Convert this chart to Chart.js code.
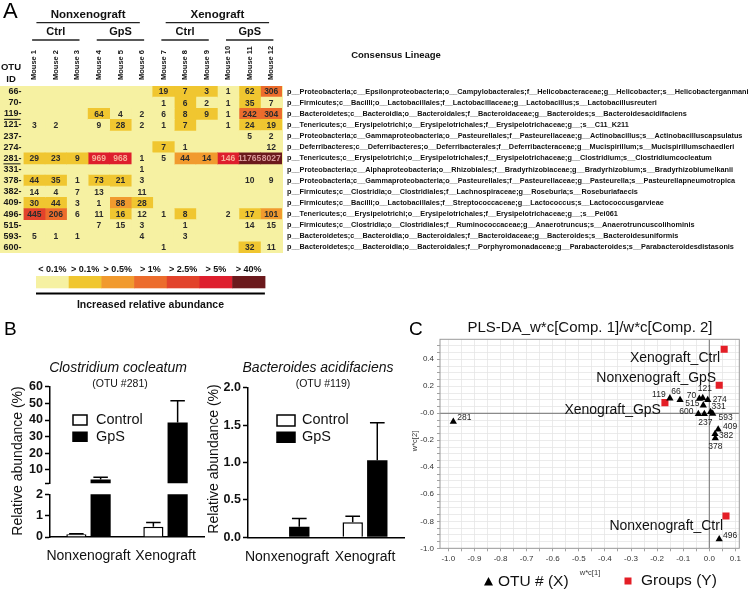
<!DOCTYPE html>
<html>
<head>
<meta charset="utf-8">
<script src="https://cdn.jsdelivr.net/npm/chart.js@4.4.1/dist/chart.umd.min.js"></script>
<style>
  html, body { margin: 0; padding: 0; background: #fff; }
  #wrap { position: relative; width: 751px; height: 590px; overflow: hidden; }
  #wrap canvas { position: absolute; left: 0; top: 0; }
</style>
</head>
<body>
<div id="wrap">
  <canvas id="heat" width="751" height="590"></canvas>
  <canvas id="cocUpper" width="751" height="590"></canvas>
  <canvas id="cocLower" width="751" height="590"></canvas>
  <canvas id="acid" width="751" height="590"></canvas>
  <canvas id="plsda" width="751" height="590"></canvas>
</div>
<script>
// ! Data - panel A (read counts, null = empty cell)
const otuIds = ["66", "70", "119", "121", "237", "274", "281", "331", "378", "382", "409", "496", "515", "593", "600"];
const highlightOtus = ["119", "281"];
const mice = ["Mouse 1", "Mouse 2", "Mouse 3", "Mouse 4", "Mouse 5", "Mouse 6",
  "Mouse 7", "Mouse 8", "Mouse 9", "Mouse 10", "Mouse 11", "Mouse 12"];
const counts = [
  [null, null, null, null, null, null, 19, 7, 3, 1, 62, 306],
  [null, null, null, null, null, null, 1, 6, 2, 1, 35, 7],
  [null, null, null, 64, 4, 2, 6, 8, 9, 1, 242, 304],
  [3, 2, null, 9, 28, 2, 1, 7, null, 1, 24, 19],
  [null, null, null, null, null, null, null, null, null, null, 5, 2],
  [null, null, null, null, null, null, 7, 1, null, null, null, 12],
  [29, 23, 9, 969, 968, 1, 5, 44, 14, 146, 11765, 8027],
  [null, null, null, null, null, 1, null, null, null, null, null, null],
  [44, 35, 1, 73, 21, 3, null, null, null, null, 10, 9],
  [14, 4, 7, 13, null, 11, null, null, null, null, null, null],
  [30, 44, 3, 1, 88, 28, null, null, null, null, null, null],
  [445, 206, 6, 11, 16, 12, 1, 8, null, 2, 17, 101],
  [null, null, null, 7, 15, 3, null, 1, null, null, 14, 15],
  [5, 1, 1, null, null, 4, null, 3, null, null, null, null],
  [null, null, null, null, null, null, 1, null, null, null, 32, 11]
];
// abundance class of each cell (index into levelLabels)
const levels = [
  [0, 0, 0, 0, 0, 0, 1, 1, 1, 0, 1, 3],
  [0, 0, 0, 0, 0, 0, 0, 1, 0, 0, 1, 0],
  [0, 0, 0, 1, 0, 0, 0, 1, 1, 0, 3, 3],
  [0, 0, 0, 0, 1, 0, 0, 1, 0, 0, 1, 1],
  [0, 0, 0, 0, 0, 0, 0, 0, 0, 0, 0, 0],
  [0, 0, 0, 0, 0, 0, 1, 0, 0, 0, 0, 0],
  [1, 1, 1, 5, 5, 0, 0, 2, 2, 5, 6, 6],
  [0, 0, 0, 0, 0, 0, 0, 0, 0, 0, 0, 0],
  [1, 1, 0, 1, 1, 0, 0, 0, 0, 0, 0, 0],
  [0, 0, 0, 0, 0, 0, 0, 0, 0, 0, 0, 0],
  [1, 1, 0, 0, 2, 1, 0, 0, 0, 0, 0, 0],
  [4, 3, 0, 0, 1, 0, 0, 1, 0, 0, 1, 2],
  [0, 0, 0, 0, 0, 0, 0, 0, 0, 0, 0, 0],
  [0, 0, 0, 0, 0, 0, 0, 0, 0, 0, 0, 0],
  [0, 0, 0, 0, 0, 0, 0, 0, 0, 0, 1, 0]
];
const levelLabels = ["< 0.1%", "> 0.1%", "> 0.5%", "> 1%", "> 2.5%", "> 5%", "> 40%"];
const lineages = [
  "p__Proteobacteria;c__Epsilonproteobacteria;o__Campylobacterales;f__Helicobacteraceae;g__Helicobacter;s__Helicobacterganmani",
  "p__Firmicutes;c__Bacilli;o__Lactobacillales;f__Lactobacillaceae;g__Lactobacillus;s__Lactobacillusreuteri",
  "p__Bacteroidetes;c__Bacteroidia;o__Bacteroidales;f__Bacteroidaceae;g__Bacteroides;s__Bacteroidesacidifaciens",
  "p__Tenericutes;c__Erysipelotrichi;o__Erysipelotrichales;f__Erysipelotrichaceae;g__;s__C11_K211",
  "p__Proteobacteria;c__Gammaproteobacteria;o__Pasteurellales;f__Pasteurellaceae;g__Actinobacillus;s__Actinobacilluscapsulatus",
  "p__Deferribacteres;c__Deferribacteres;o__Deferribacterales;f__Deferribacteraceae;g__Mucispirillum;s__Mucispirillumschaedleri",
  "p__Tenericutes;c__Erysipelotrichi;o__Erysipelotrichales;f__Erysipelotrichaceae;g__Clostridium;s__Clostridiumcocleatum",
  "p__Proteobacteria;c__Alphaproteobacteria;o__Rhizobiales;f__Bradyrhizobiaceae;g__Bradyrhizobium;s__Bradyrhizobiumelkanii",
  "p__Proteobacteria;c__Gammaproteobacteria;o__Pasteurellales;f__Pasteurellaceae;g__Pasteurella;s__Pasteurellapneumotropica",
  "p__Firmicutes;c__Clostridia;o__Clostridiales;f__Lachnospiraceae;g__Roseburia;s__Roseburiafaecis",
  "p__Firmicutes;c__Bacilli;o__Lactobacillales;f__Streptococcaceae;g__Lactococcus;s__Lactococcusgarvieae",
  "p__Tenericutes;c__Erysipelotrichi;o__Erysipelotrichales;f__Erysipelotrichaceae;g__;s__Pei061",
  "p__Firmicutes;c__Clostridia;o__Clostridiales;f__Ruminococcaceae;g__Anaerotruncus;s__Anaerotruncuscolihominis",
  "p__Bacteroidetes;c__Bacteroidia;o__Bacteroidales;f__Bacteroidaceae;g__Bacteroides;s__Bacteroidesuniformis",
  "p__Bacteroidetes;c__Bacteroidia;o__Bacteroidales;f__Porphyromonadaceae;g__Parabacteroides;s__Parabacteroidesdistasonis"
];

// ! Data - panel B (relative abundance %, mean and SD)
const groupsB = ["Nonxenograft", "Xenograft"];
const cocleatumControl = [0.13, 0.48];
const cocleatumControlSd = [0.02, 0.2];
const cocleatumGps = [4.3, 38.5];
const cocleatumGpsSd = [1.4, 13];
const cocleatumUpperTicks = [2, 10, 20, 30, 40, 50, 60];
const cocleatumLowerTicks = [0, 1, 2];
const acidControl = [0, 0.2];
const acidControlSd = [0, 0.08];
const acidGps = [0.14, 1.03];
const acidGpsSd = [0.11, 0.5];
const acidTicks = [0, 0.5, 1, 1.5, 2];

// ! Data - panel C (PLS-DA loadings)
const plsOtus = ["281", "119", "66", "70", "121", "274", "515", "331", "600", "237", "593", "409", "382", "378", "496"];
const plsX = [-0.981, -0.151, -0.112, -0.038, -0.025, -0.006, -0.023, 0.005, -0.042, -0.019, 0.013, 0.034, 0.022, 0.023, 0.038];
const plsY = [-0.062, 0.111, 0.099, 0.108, 0.113, 0.099, 0.059, 0.010, -0.005, -0.005, -0.003, -0.119, -0.153, -0.185, -0.933];
const plsGroups = ["Xenograft_Ctrl", "Nonxenograft_GpS", "Xenograft_GpS", "Nonxenograft_Ctrl"];
const plsGroupX = [0.057, 0.038, -0.170, 0.064];
const plsGroupY = [0.474, 0.207, 0.079, -0.761];
const plsXTicks = ["-1.0", "-0.9", "-0.8", "-0.7", "-0.6", "-0.5", "-0.4", "-0.3", "-0.2", "-0.1", "0.0", "0.1"];
const plsYTicks = ["-1.0", "-0.8", "-0.6", "-0.4", "-0.2", "-0.0", "0.2", "0.4"];

//! Common
const W = 751, H = 590;
const FONT = "'Liberation Sans', Arial, sans-serif";
Chart.defaults.font.family = FONT;
Chart.defaults.color = "#000";
Chart.defaults.animation = false;
Chart.defaults.responsive = false;
Chart.defaults.plugins.legend.display = false;
Chart.defaults.plugins.tooltip.enabled = false;

const levelColors = ["#f6f1a2", "#f0c630", "#f19a2e", "#ec6c2c", "#e2432b", "#de1e2d", "#6b191c"];

function text(ctx, str, x, y, font, align, color, rot) {
  ctx.save();
  ctx.font = font;
  ctx.fillStyle = color || "#000";
  ctx.textAlign = align || "center";
  ctx.textBaseline = "middle";
  ctx.translate(x, y);
  if (rot) ctx.rotate(rot);
  ctx.fillText(str, 0, 0);
  ctx.restore();
}

function hline(ctx, x1, x2, y, w, color) {
  ctx.save();
  ctx.strokeStyle = color || "#000";
  ctx.lineWidth = w;
  ctx.beginPath();
  ctx.moveTo(x1, y);
  ctx.lineTo(x2, y);
  ctx.stroke();
  ctx.restore();
}

// padding so the chart area lands on the given page box
function boxPadding(box, yAxisW, xAxisH, rightAxisW) {
  return {
    left: box.left - yAxisW,
    top: box.top,
    right: W - box.right - (rightAxisW || 0),
    bottom: H - box.bottom - xAxisH
  };
}

//! Panel A - heatmap
const heatBox = { left: 23.5, right: 282, top: 86, bottom: 253 };
const headerGroups = [
  { name: "Nonxenograft", from: 0, to: 6 },
  { name: "Xenograft", from: 6, to: 12 }
];
const headerSubs = [
  { name: "Ctrl", from: 0, to: 3 },
  { name: "GpS", from: 3, to: 6 },
  { name: "Ctrl", from: 6, to: 9 },
  { name: "GpS", from: 9, to: 12 }
];

const heatPlugin = {
  id: "heatDecor",
  beforeDraw(chart) {
    const { ctx, chartArea } = chart;
    ctx.save();
    ctx.fillStyle = levelColors[0];
    ctx.fillRect(0, chartArea.top, chartArea.right + 1, chartArea.bottom - chartArea.top);
    ctx.restore();
  },
  afterDatasetsDraw(chart) {
    const { ctx } = chart;
    const xs = chart.scales.x;
    const ys = chart.scales.y;
    counts.forEach((row, r) => {
      row.forEach((v, m) => {
        if (v === null) return;
        let color = "#2b2b2b";
        if (levels[r][m] === 5) color = "#f6ae98";
        if (levels[r][m] === 6) color = "#d99a9a";
        text(ctx, String(v), xs.getPixelForValue(m + 0.5), ys.getPixelForValue(r) + 0.5, "bold 8.5px " + FONT, "center", color);
      });
    });
  },
  afterDraw(chart) {
    const { ctx } = chart;
    const xs = chart.scales.x;
    const ys = chart.scales.y;
    text(ctx, "A", 3, 12, "22px " + FONT, "left");
    headerGroups.forEach((g) => {
      const c = xs.getPixelForValue((g.from + g.to) / 2);
      text(ctx, g.name, c, 15, "bold 11.5px " + FONT, "center", "#111");
      hline(ctx, xs.getPixelForValue(g.from + 0.6), xs.getPixelForValue(g.to - 0.6), 22.7, 1.3, "#222");
    });
    headerSubs.forEach((g) => {
      const c = xs.getPixelForValue((g.from + g.to) / 2);
      text(ctx, g.name, c, 32, "bold 11px " + FONT, "center", "#111");
      hline(ctx, xs.getPixelForValue(g.from + 0.4), xs.getPixelForValue(g.to - 0.4), 40, 1.3, "#222");
    });
    mice.forEach((name, m) => {
      text(ctx, name, xs.getPixelForValue(m + 0.5), 80, "bold 7.5px " + FONT, "left", "#111", -Math.PI / 2);
    });
    text(ctx, "OTU", 11, 67, "bold 9.5px " + FONT, "center", "#111");
    text(ctx, "ID", 11, 79, "bold 9.5px " + FONT, "center", "#111");
    text(ctx, "Consensus Lineage", 396, 55, "bold 9.5px " + FONT, "center", "#111");

    // underline the OTUs shown in panel B
    ctx.save();
    ctx.font = "bold 9px " + FONT;
    highlightOtus.forEach((id) => {
      const r = otuIds.indexOf(id);
      const y = ys.getPixelForValue(r) + 5.5;
      const right = ys.right - 2;
      const w = ctx.measureText(id + "-").width;
      hline(ctx, right - w, right - 1, y, 1, "#111");
    });
    ctx.restore();

    // colour key
    const segW = 32.7, keyLeft = 36;
    levelColors.forEach((c, i) => {
      ctx.fillStyle = c;
      ctx.fillRect(keyLeft + i * segW, 276, segW + 0.5, 12.3);
      text(ctx, levelLabels[i], keyLeft + (i + 0.5) * segW, 270, "bold 9px " + FONT, "center", "#111");
    });
    hline(ctx, keyLeft, keyLeft + segW * 7, 293.5, 2, "#000");
    text(ctx, "Increased relative abundance", keyLeft + segW * 3.5, 305, "bold 10.5px " + FONT, "center", "#111");
  }
};

new Chart(document.getElementById("heat"), {
  type: "bar",
  data: {
    labels: otuIds,
    datasets: mice.map((name, m) => ({
      label: name,
      data: counts.map((row) => (row[m] === null ? null : [m, m + 1])),
      backgroundColor: levels.map((row) => levelColors[row[m]]),
      borderWidth: 0,
      barPercentage: 1,
      categoryPercentage: 1,
      grouped: false
    }))
  },
  options: {
    indexAxis: "y",
    layout: { autoPadding: false, padding: boxPadding(heatBox, 23.5, 0, W - heatBox.right) },
    scales: {
      x: { type: "linear", min: 0, max: 12, display: false },
      y: {
        position: "left",
        grid: { display: false, drawTicks: false },
        border: { display: false },
        ticks: {
          padding: 2,
          autoSkip: false,
          color: "#1a1a1a",
          font: { size: 9, weight: "bold" },
          callback: (v, i) => otuIds[i] + "-"
        },
        afterFit: (s) => { s.width = 23.5; }
      },
      y2: {
        type: "category",
        labels: lineages,
        position: "right",
        offset: true,
        grid: { display: false, drawTicks: false },
        border: { display: false },
        ticks: { padding: 5, autoSkip: false, color: "#111", font: { size: 7.3, weight: "bold" } },
        afterFit: (s) => { s.width = W - heatBox.right; }
      }
    }
  },
  plugins: [heatPlugin]
});

//! Panel B - bar charts
const errorBarPlugin = {
  id: "errorBars",
  afterDatasetsDraw(chart) {
    const { ctx, chartArea } = chart;
    const ys = chart.scales.y;
    ctx.save();
    ctx.beginPath();
    ctx.rect(chartArea.left - 20, chartArea.top - 1, chartArea.width + 40, chartArea.height + 1);
    ctx.clip();
    ctx.strokeStyle = "#000";
    ctx.lineWidth = 1.5;
    chart.data.datasets.forEach((ds, di) => {
      const meta = chart.getDatasetMeta(di);
      meta.data.forEach((bar, i) => {
        const v = ds.data[i];
        const e = ds.errors[i];
        if (!e) return;
        const y0 = ys.getPixelForValue(v);
        const y1 = ys.getPixelForValue(v + e);
        const half = bar.width * 0.36;
        ctx.beginPath();
        ctx.moveTo(bar.x, y0);
        ctx.lineTo(bar.x, y1);
        ctx.moveTo(bar.x - half, y1);
        ctx.lineTo(bar.x + half, y1);
        ctx.stroke();
      });
    });
    ctx.restore();
  }
};

function barDatasets(ctrl, ctrlSd, gps, gpsSd) {
  return [
    {
      label: "Control", data: ctrl, errors: ctrlSd,
      backgroundColor: "#fff", borderColor: "#000", borderWidth: 1.5,
      barPercentage: 0.83, categoryPercentage: 0.63, clip: 0
    },
    {
      label: "GpS", data: gps, errors: gpsSd,
      backgroundColor: "#000", borderColor: "#000", borderWidth: 0,
      barPercentage: 0.83, categoryPercentage: 0.63, clip: 0
    }
  ];
}

function barChart(id, box, yMin, yMax, tickValues, tickFmt, showX, extra) {
  const xH = showX ? H - box.bottom : 0;
  return new Chart(document.getElementById(id), {
    type: "bar",
    data: { labels: groupsB, datasets: barDatasets(...extra.data) },
    options: {
      layout: { autoPadding: false, padding: boxPadding(box, box.left, xH) },
      scales: {
        x: {
          display: showX,
          offset: true,
          grid: { display: false },
          border: { color: "#000", width: 1.5 },
          ticks: { padding: 3, font: { size: 14 }, color: "#111", maxRotation: 0, minRotation: 0, autoSkip: false },
          afterFit: (s) => { s.height = xH; }
        },
        y: {
          min: yMin,
          max: yMax,
          grid: { drawOnChartArea: false, tickLength: 5, tickColor: "#000", tickWidth: 1.5 },
          border: { color: "#000", width: 1.5 },
          ticks: { padding: 2, autoSkip: false, font: { size: 12.5, weight: "bold" }, color: "#111", callback: tickFmt },
          afterBuildTicks: (s) => { s.ticks = tickValues.map((v) => ({ value: v })); },
          afterFit: (s) => { s.width = box.left; }
        }
      }
    },
    plugins: [errorBarPlugin].concat(extra.plugins || [])
  });
}

const panelBText = {
  id: "panelBText",
  afterDraw(chart) {
    const { ctx } = chart;
    text(ctx, "B", 4, 330, "19px " + FONT, "left");
    // left chart
    text(ctx, "Clostridium cocleatum", 118, 368, "italic 14px " + FONT, "center", "#111");
    text(ctx, "(OTU #281)", 120, 384, "10.5px " + FONT, "center", "#111");
    text(ctx, "Relative abundance (%)", 18, 461, "14px " + FONT, "center", "#111", -Math.PI / 2);
    // right chart
    text(ctx, "Bacteroides acidifaciens", 318, 368, "italic 14px " + FONT, "center", "#111");
    text(ctx, "(OTU #119)", 323, 384, "10.5px " + FONT, "center", "#111");
    text(ctx, "Relative abundance (%)", 214, 459, "14px " + FONT, "center", "#111", -Math.PI / 2);
    // legends
    const keys = [
      { x: 73, w: 14, h: 10, tx: 96 },
      { x: 277, w: 18, h: 11, tx: 302 }
    ];
    ctx.save();
    keys.forEach((k) => {
      ctx.lineWidth = 1.5;
      ctx.strokeStyle = "#000";
      ctx.fillStyle = "#fff";
      ctx.fillRect(k.x, 415, k.w, k.h);
      ctx.strokeRect(k.x, 415, k.w, k.h);
      ctx.fillStyle = "#000";
      ctx.fillRect(k.x - 0.75, 431.5, k.w + 1.5, k.h + 0.5);
      text(ctx, "Control", k.tx, 420, "14.5px " + FONT, "left", "#111");
      text(ctx, "GpS", k.tx, 437, "14.5px " + FONT, "left", "#111");
    });
    ctx.restore();
  }
};

const oneDecimal = (v) => v.toFixed(1);
const hideMin = (v) => (v === cocleatumUpperTicks[0] ? "" : v);

barChart("cocUpper", { left: 50, right: 204, top: 386.7, bottom: 483.3 }, 2, 60,
  cocleatumUpperTicks, hideMin, false,
  { data: [cocleatumControl, cocleatumControlSd, cocleatumGps, cocleatumGpsSd] });
barChart("cocLower", { left: 50, right: 204, top: 494.3, bottom: 537 }, 0, 2,
  cocleatumLowerTicks, (v) => v, true,
  { data: [cocleatumControl, cocleatumControlSd, cocleatumGps, cocleatumGpsSd], plugins: [panelBText] });
barChart("acid", { left: 248, right: 404, top: 387.7, bottom: 537.3 }, 0, 2,
  acidTicks, oneDecimal, true,
  { data: [acidControl, acidControlSd, acidGps, acidGpsSd] });

//! Panel C - PLS-DA loading plot
const plsBox = { left: 440, right: 739.3, top: 339.3, bottom: 548.3 };
const otuLabelOffsets = {
  "281": [11, -4], "119": [-11, -4], "66": [-4, -8], "70": [-8, -3], "121": [2, -9],
  "274": [12, 0], "515": [-11, -2], "331": [8, -5], "600": [-12, -2], "237": [1, 9],
  "593": [13, 4], "409": [12, -3], "382": [11, 2], "378": [0, 8], "496": [11, -4]
};
const groupLabelOffsets = [[-4, 9], [-3, -7], [-4, 8], [-3, 10]];

function gridValues(from, to, step) {
  const out = [];
  for (let v = from; v <= to + 1e-9; v += step) out.push(Math.round(v * 1000) / 1000);
  return out;
}
function tickLabel(list, v) {
  const hit = list.find((l) => Math.abs(parseFloat(l) - v) < 1e-6);
  return hit === undefined ? "" : hit;
}

const plsPlugin = {
  id: "plsDecor",
  beforeDatasetsDraw(chart) {
    const { ctx, chartArea: a } = chart;
    const xs = chart.scales.x, ys = chart.scales.y;
    ctx.save();
    ctx.strokeStyle = "#6f6f6f";
    ctx.lineWidth = 1;
    const x0 = xs.getPixelForValue(0), y0 = ys.getPixelForValue(0);
    ctx.beginPath();
    ctx.moveTo(x0, a.top);
    ctx.lineTo(x0, a.bottom);
    ctx.moveTo(a.left, y0);
    ctx.lineTo(a.right, y0);
    ctx.stroke();
    ctx.strokeStyle = "#9a9a9a";
    ctx.strokeRect(a.left, a.top, a.right - a.left, a.bottom - a.top);
    ctx.restore();
  },
  afterDatasetsDraw(chart) {
    const { ctx } = chart;
    const pts = chart.getDatasetMeta(0).data;
    pts.forEach((p, i) => {
      const off = otuLabelOffsets[plsOtus[i]] || [10, -4];
      text(ctx, plsOtus[i], p.x + off[0], p.y + off[1], "8.5px " + FONT, "center", "#222");
    });
    const grp = chart.getDatasetMeta(1).data;
    grp.forEach((p, i) => {
      const off = groupLabelOffsets[i];
      text(ctx, plsGroups[i], p.x + off[0], p.y + off[1], "14px " + FONT, "right", "#111");
    });
  },
  afterDraw(chart) {
    const { ctx } = chart;
    text(ctx, "C", 409, 330, "19px " + FONT, "left");
    text(ctx, "PLS-DA_w*c[Comp. 1]/w*c[Comp. 2]", 590, 328, "15px " + FONT, "center", "#111");
    text(ctx, "w*c[2]", 415, 441, "7.5px " + FONT, "center", "#333", -Math.PI / 2);
    text(ctx, "w*c[1]", 590, 573, "7.5px " + FONT, "center", "#333");
    // legend
    ctx.save();
    ctx.fillStyle = "#000";
    ctx.beginPath();
    ctx.moveTo(488.5, 577);
    ctx.lineTo(493, 585.5);
    ctx.lineTo(484, 585.5);
    ctx.closePath();
    ctx.fill();
    ctx.fillStyle = "#e41e26";
    ctx.fillRect(624.5, 577.5, 7, 7);
    ctx.restore();
    text(ctx, "OTU # (X)", 498, 582, "15.5px " + FONT, "left", "#111");
    text(ctx, "Groups (Y)", 641, 581, "15.5px " + FONT, "left", "#111");
  }
};

new Chart(document.getElementById("plsda"), {
  type: "scatter",
  data: {
    datasets: [
      {
        label: "OTU # (X)",
        data: plsX.map((x, i) => ({ x: x, y: plsY[i] })),
        pointStyle: "triangle",
        pointRadius: 4.2,
        backgroundColor: "#000",
        borderColor: "#000",
        borderWidth: 0
      },
      {
        label: "Groups (Y)",
        data: plsGroupX.map((x, i) => ({ x: x, y: plsGroupY[i] })),
        pointStyle: "rect",
        pointRadius: 5,
        backgroundColor: "#e41e26",
        borderColor: "#e41e26",
        borderWidth: 0
      }
    ]
  },
  options: {
    layout: { autoPadding: false, padding: boxPadding(plsBox, plsBox.left, H - plsBox.bottom) },
    scales: {
      x: {
        type: "linear",
        min: -1.032,
        max: 0.115,
        grid: { color: "#e6e6e6", lineWidth: 0.8, tickLength: 3, tickColor: "#8a8a8a" },
        border: { display: false },
        ticks: { padding: 3, font: { size: 8 }, color: "#333", autoSkip: false, maxRotation: 0,
          callback: (v) => tickLabel(plsXTicks, v) },
        afterBuildTicks: (s) => { s.ticks = gridValues(-1.0, 0.1, 0.05).map((v) => ({ value: v })); },
        afterFit: (s) => { s.height = H - plsBox.bottom; }
      },
      y: {
        type: "linear",
        min: -1.0,
        max: 0.548,
        grid: { color: "#e6e6e6", lineWidth: 0.8, tickLength: 3, tickColor: "#8a8a8a" },
        border: { display: false },
        ticks: { padding: 3, font: { size: 8 }, color: "#333", autoSkip: false,
          callback: (v) => tickLabel(plsYTicks, v) },
        afterBuildTicks: (s) => { s.ticks = gridValues(-1.0, 0.5, 0.05).map((v) => ({ value: v })); },
        afterFit: (s) => { s.width = plsBox.left; }
      }
    }
  },
  plugins: [plsPlugin]
});
</script>
</body>
</html>
